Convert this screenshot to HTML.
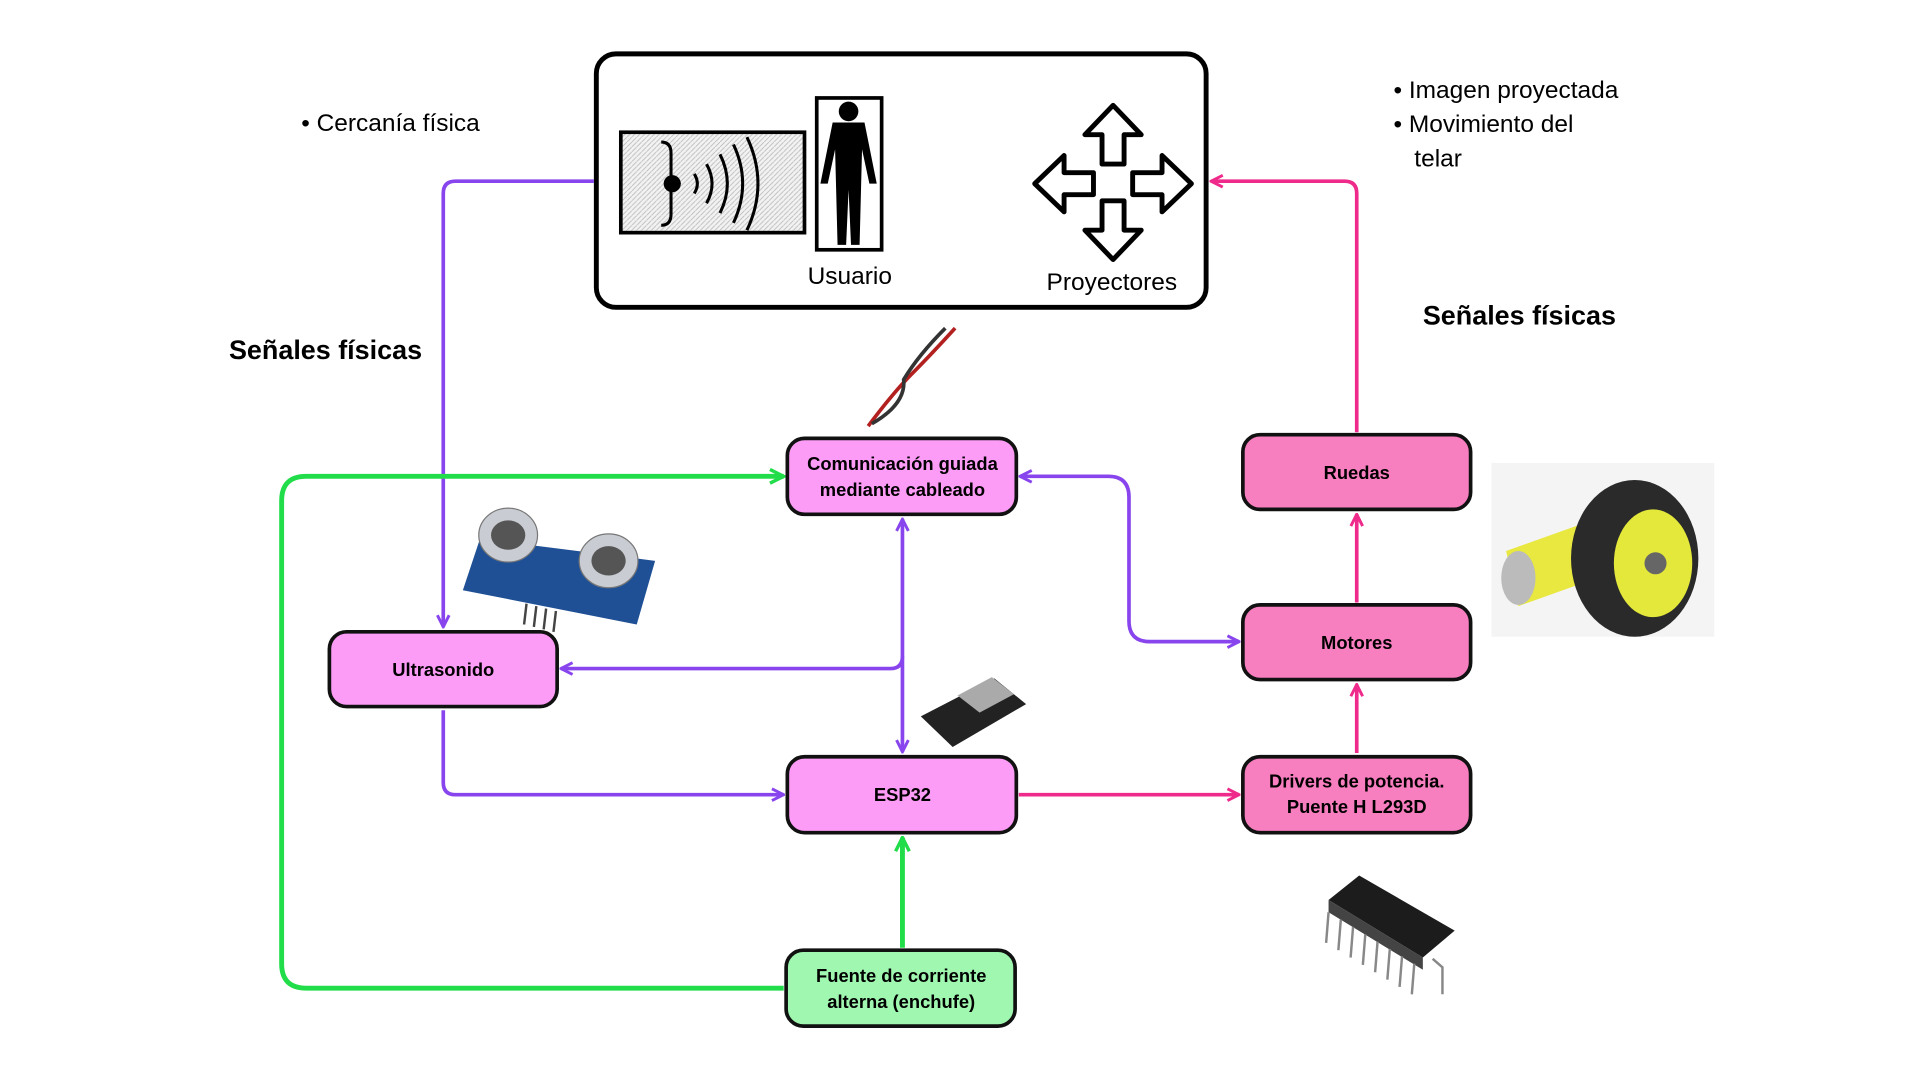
<!DOCTYPE html>
<html><head><meta charset="utf-8"><style>
html,body{margin:0;padding:0;background:#fff;}
svg{display:block;font-family:"Liberation Sans",sans-serif;}
</style></head><body>
<svg width="1920" height="1080" viewBox="0 0 1568 882">
<defs>
<pattern id="hatch" width="4" height="4" patternUnits="userSpaceOnUse"><rect width="4" height="4" fill="#f2f2f2"/><path d="M0 4L4 0" stroke="#bbb" stroke-width="0.7"/></pattern>
<marker id="ap" viewBox="0 0 10 10" refX="9" refY="5" markerWidth="4" markerHeight="4" orient="auto-start-reverse"><path d="M1 1L9 5L1 9" fill="none" stroke="#8845ee" stroke-width="2"/></marker>
<marker id="ak" viewBox="0 0 10 10" refX="9" refY="5" markerWidth="4" markerHeight="4" orient="auto-start-reverse"><path d="M1 1L9 5L1 9" fill="none" stroke="#ee2a8a" stroke-width="2"/></marker>
<marker id="ag" viewBox="0 0 10 10" refX="9" refY="5" markerWidth="3.5" markerHeight="3.5" orient="auto-start-reverse"><path d="M1 1L9 5L1 9" fill="none" stroke="#22dd4a" stroke-width="2"/></marker>
</defs>

<g>
<rect x="487" y="44" width="498" height="207" rx="16" fill="#fff" stroke="#000" stroke-width="4"/>
<g>
<rect x="507" y="108" width="150" height="82" fill="url(#hatch)" stroke="#000" stroke-width="3"/>
<path d="M540 116 Q548 116 548 125 L548 143 Q548 148 553 150 Q548 152 548 157 L548 175 Q548 184 540 184" fill="none" stroke="#000" stroke-width="2.5"/>
<circle cx="549" cy="150" r="7" fill="#000"/>
<path d="M567 142 Q572 150 567 158 M577 134 Q586 150 577 166 M588 126 Q600 150 588 174 M599 118 Q614 150 599 182 M610 112 Q628 150 610 188" fill="none" stroke="#000" stroke-width="2.5"/>
</g>
<g>
<rect x="667" y="80" width="53" height="124" fill="#fff" stroke="#000" stroke-width="3"/>
<circle cx="693" cy="91" r="8" fill="#000"/>
<path d="M680 100 L706 100 L716 150 L710 150 L704 122 L702 200 L695 200 L693 155 L691 200 L684 200 L682 122 L676 150 L670 150 Z" fill="#000"/>
</g>
<text x="694" y="232" font-size="20" text-anchor="middle">Usuario</text>
<g fill="#fff" stroke="#000" stroke-width="4" stroke-linejoin="round">
<path d="M909 86 L932 110 L918 110 L918 134 L900 134 L900 110 L886 110 Z"/>
<path d="M909 212 L932 188 L918 188 L918 164 L900 164 L900 188 L886 188 Z"/>
<path d="M845 150 L869 127 L869 141 L893 141 L893 159 L869 159 L869 173 Z"/>
<path d="M973 150 L949 127 L949 141 L925 141 L925 159 L949 159 L949 173 Z"/>
</g>
<text x="908" y="237" font-size="20" text-anchor="middle">Proyectores</text>
</g>

<text x="246" y="107" font-size="20">• Cercanía física</text>
<text x="1138" y="80" font-size="20">• Imagen proyectada</text>
<text x="1138" y="108" font-size="20">• Movimiento del</text>
<text x="1155" y="136" font-size="20">telar</text>
<text x="187" y="293" font-size="22" font-weight="bold">Señales físicas</text>
<text x="1162" y="265" font-size="22" font-weight="bold">Señales físicas</text>

<g fill="none" stroke-width="3" stroke-linejoin="round">
<path d="M485 148 L372 148 Q362 148 362 158 L362 512" stroke="#8845ee" marker-end="url(#ap)"/>
<path d="M737 424 L737 614" stroke="#8845ee" marker-start="url(#ap)" marker-end="url(#ap)"/>
<path d="M737 536 Q737 546 727 546 L458 546" stroke="#8845ee" marker-end="url(#ap)"/>
<path d="M362 580 L362 639 Q362 649 372 649 L640 649" stroke="#8845ee" marker-end="url(#ap)"/>
<path d="M833 389 L905 389 Q922 389 922 406 L922 507 Q922 524 939 524 L1012 524" stroke="#8845ee" marker-start="url(#ap)" marker-end="url(#ap)"/>
<path d="M832 649 L1012 649" stroke="#ee2a8a" marker-end="url(#ak)"/>
<path d="M1108 615 L1108 559" stroke="#ee2a8a" marker-end="url(#ak)"/>
<path d="M1108 492 L1108 420" stroke="#ee2a8a" marker-end="url(#ak)"/>
<path d="M1108 353 L1108 158 Q1108 148 1098 148 L989 148" stroke="#ee2a8a" marker-end="url(#ak)"/>
<path d="M737 774 L737 684" stroke="#22dd4a" stroke-width="4" marker-end="url(#ag)"/>
<path d="M640 807 L250 807 Q230 807 230 787 L230 409 Q230 389 250 389 L640 389" stroke="#22dd4a" stroke-width="4" marker-end="url(#ag)"/>
</g>

<g stroke="#111" stroke-width="3" font-size="15" font-weight="bold" text-anchor="middle">
<g><rect x="643" y="358" width="187" height="62" rx="14" fill="#fd9cf7"/><text x="737" y="384" stroke="none">Comunicación guiada</text><text x="737" y="405" stroke="none">mediante cableado</text></g>
<g><rect x="269" y="516" width="186" height="61" rx="14" fill="#fd9cf7"/><text x="362" y="552" stroke="none">Ultrasonido</text></g>
<g><rect x="643" y="618" width="187" height="62" rx="14" fill="#fd9cf7"/><text x="737" y="654" stroke="none">ESP32</text></g>
<g><rect x="642" y="776" width="187" height="62" rx="14" fill="#a0f7b0"/><text x="736" y="802" stroke="none">Fuente de corriente</text><text x="736" y="823" stroke="none">alterna (enchufe)</text></g>
<g><rect x="1015" y="355" width="186" height="61" rx="14" fill="#f77ebf"/><text x="1108" y="391" stroke="none">Ruedas</text></g>
<g><rect x="1015" y="494" width="186" height="61" rx="14" fill="#f77ebf"/><text x="1108" y="530" stroke="none">Motores</text></g>
<g><rect x="1015" y="618" width="186" height="62" rx="14" fill="#f77ebf"/><text x="1108" y="643" stroke="none">Drivers de potencia.</text><text x="1108" y="664" stroke="none">Puente H L293D</text></g>
</g>

<g fill="none" stroke-width="3">
<path d="M709 348 Q730 320 745 305 Q760 290 780 268" stroke="#b32020"/>
<path d="M712 346 Q740 330 738 310 Q750 290 772 268" stroke="#333"/>
</g>
<g>
<path d="M392 440 L535 458 L520 510 L378 482 Z" fill="#1f4f95"/>
<ellipse cx="415" cy="437" rx="24" ry="22" fill="#c9ccd2" stroke="#777"/>
<ellipse cx="415" cy="437" rx="14" ry="12" fill="#555"/>
<ellipse cx="497" cy="458" rx="24" ry="22" fill="#c9ccd2" stroke="#777"/>
<ellipse cx="497" cy="458" rx="14" ry="12" fill="#555"/>
<path d="M430 493 L428 510 M438 495 L436 512 M446 497 L444 514 M454 499 L452 516" stroke="#444" stroke-width="2"/>
</g>
<g>
<path d="M752 585 L812 554 L838 575 L778 610 Z" fill="#222"/>
<path d="M782 568 L810 553 L828 567 L800 582 Z" fill="#aaa"/>
</g>
<g>
<rect x="1218" y="378" width="182" height="142" fill="#f4f4f4"/>
<path d="M1230 450 L1300 425 L1310 470 L1240 495 Z" fill="#e8e840"/>
<ellipse cx="1240" cy="472" rx="14" ry="22" fill="#bbb"/>
<ellipse cx="1335" cy="456" rx="52" ry="64" fill="#2a2a2a"/>
<ellipse cx="1350" cy="460" rx="32" ry="44" fill="#e3e83a"/>
<circle cx="1352" cy="460" r="9" fill="#666"/>
</g>
<g>
<path d="M1085 735 L1110 715 L1188 760 L1162 782 Z" fill="#1c1c1c"/>
<path d="M1085 735 L1162 782 L1162 792 L1085 745 Z" fill="#444"/>
<path d="M1085 745 L1083 770 M1095 751 L1093 776 M1105 757 L1103 782 M1115 763 L1113 788 M1125 769 L1123 794 M1135 775 L1133 800 M1145 781 L1143 806 M1155 787 L1153 812 M1170 783 L1178 790 L1178 812" stroke="#888" stroke-width="2" fill="none"/>
</g>
</svg>
</body></html>
